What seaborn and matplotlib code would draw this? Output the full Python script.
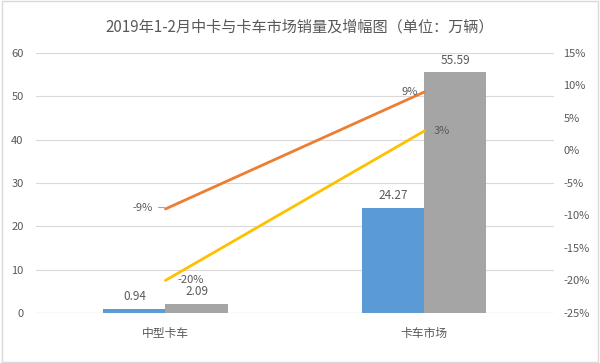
import matplotlib
matplotlib.use('Agg')
import matplotlib.pyplot as plt
import matplotlib.ticker as mticker
import numpy as np
import pandas as pd
import seaborn as sns

# 数据
categories = ['中型卡车', '卡车市场']
series_names = ['2018年1-2月', '2019年1-2月']
sales_2018 = [0.94, 24.27]
sales_2019 = [2.09, 55.59]
growth_a = [-9, 9]
growth_b = [-20, 3]

sns.set_theme(style='white')
plt.rcParams['font.family'] = ['Noto Sans CJK SC', 'DejaVu Sans']

txt = '#595959'
bar_colors = ['#5B9BD5', '#A5A5A5']

df = pd.DataFrame({
    '类别': categories * 2,
    '系列': [series_names[0]] * 2 + [series_names[1]] * 2,
    '销量': sales_2018 + sales_2019,
})

fig = plt.figure(figsize=(6, 3.63), dpi=100)
ax = fig.add_axes([0.06, 0.138, 0.863, 0.716])

sns.barplot(data=df, x='类别', y='销量', hue='系列', palette=bar_colors,
            width=0.48, saturation=1, linewidth=0, ax=ax, legend=False)
for cont in ax.containers:
    ax.bar_label(cont, fmt='%.2f', padding=4, fontsize=8.5, color=txt)

ax.set_ylim(0, 60)
ax.set_xlim(-0.5, 1.5)
ax.set_yticks(range(0, 61, 10))
ax.yaxis.grid(True, color='#D9D9D9', linewidth=0.8)
ax.set_axisbelow(True)
for s in ax.spines.values():
    s.set_visible(False)
ax.axhline(0, color='#BFBFBF', linewidth=0.8)
ax.set_xlabel('')
ax.set_ylabel('')
ax.tick_params(axis='y', length=0, pad=9, labelsize=8, labelcolor=txt)
ax.tick_params(axis='x', length=0, pad=10, labelsize=8.5, labelcolor=txt)

ax2 = ax.twinx()
pos = np.arange(len(categories))
sns.lineplot(x=pos, y=growth_a, color='#ED7D31', linewidth=2, ax=ax2)
sns.lineplot(x=pos, y=growth_b, color='#FFC000', linewidth=2, ax=ax2)
ax2.set_ylim(-25, 15)
ax2.set_yticks(range(-25, 16, 5))
ax2.yaxis.set_major_formatter(mticker.FuncFormatter(lambda v, p: f'{int(v)}%'))
for s in ax2.spines.values():
    s.set_visible(False)
ax2.tick_params(axis='y', length=0, pad=7, labelsize=8, labelcolor=txt)

# 折线数据标签
ax2.annotate(f'{growth_a[0]}%', xy=(pos[0], growth_a[0]), xytext=(-9, 0.5),
             textcoords='offset points', ha='right', va='center', fontsize=8, color=txt)
ax2.plot([pos[0] - 0.03, pos[0] - 0.005], [growth_a[0] + 0.3] * 2, color='#A6A6A6', linewidth=0.8)
ax2.annotate(f'{growth_a[1]}%', xy=(pos[1], growth_a[1]), xytext=(-5, 0),
             textcoords='offset points', ha='right', va='center', fontsize=8, color=txt)
ax2.annotate(f'{growth_b[0]}%', xy=(pos[0], growth_b[0]), xytext=(18, 0.5),
             textcoords='offset points', ha='center', va='center', fontsize=8, color=txt)
ax2.annotate(f'{growth_b[1]}%', xy=(pos[1], growth_b[1]), xytext=(7, 0),
             textcoords='offset points', ha='left', va='center', fontsize=8, color=txt)

fig.suptitle('2019年1-2月中卡与卡车市场销量及增幅图（单位：万辆）', y=0.95,
             fontsize=10.9, color=txt)

fig.patches.append(plt.Rectangle((0.003, 0.003), 0.994, 0.994, transform=fig.transFigure,
                                 fill=False, edgecolor='#D9D9D9', linewidth=1))

fig.savefig('out.png', dpi=100)
